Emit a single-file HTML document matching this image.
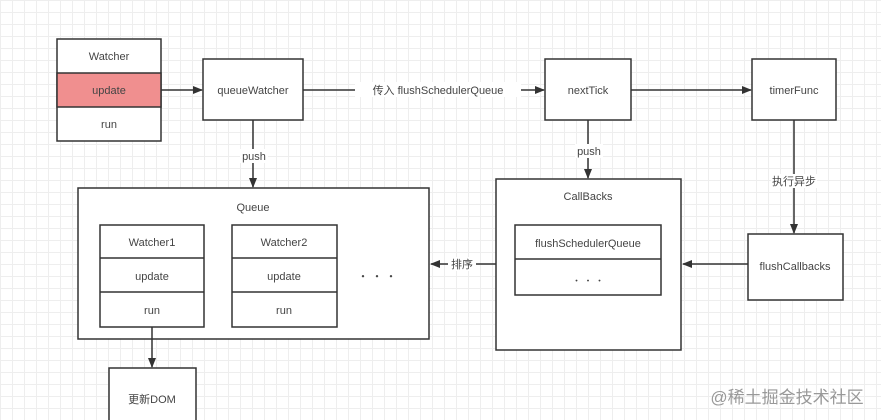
<!DOCTYPE html>
<html><head><meta charset="utf-8"><style>
body{margin:0;width:881px;height:420px;overflow:hidden;background:#fff;
background-image:linear-gradient(#eeeeee 1px,transparent 1px),linear-gradient(90deg,#eeeeee 1px,transparent 1px);background-size:12px 12px;}
</style></head><body>
<svg width="881" height="420" xmlns="http://www.w3.org/2000/svg" style="position:absolute;left:0;top:0;font-family:'Liberation Sans','Noto Sans CJK SC',sans-serif;font-size:11px">
<defs><marker id="a" markerWidth="10" markerHeight="8" refX="9" refY="4" orient="auto" markerUnits="userSpaceOnUse"><path d="M0,0 L10,4 L0,8 Z" fill="#333"/></marker></defs>
<g stroke="#333" stroke-width="1.5" fill="#fff">
<rect x="57" y="39" width="104" height="102"/>
<rect x="57" y="73" width="104" height="34" fill="#f08f8f"/>
<rect x="203" y="59" width="100" height="61"/>
<rect x="545" y="59" width="86" height="61"/>
<rect x="752" y="59" width="84" height="61"/>
<rect x="78" y="188" width="351" height="151"/>
<rect x="100" y="225" width="104" height="102"/>
<line x1="100" y1="258" x2="204" y2="258"/><line x1="100" y1="292" x2="204" y2="292"/>
<rect x="232" y="225" width="105" height="102"/>
<line x1="232" y1="258" x2="337" y2="258"/><line x1="232" y1="292" x2="337" y2="292"/>
<rect x="109" y="368" width="87" height="60"/>
<rect x="496" y="179" width="185" height="171"/>
<rect x="515" y="225" width="146" height="70"/>
<line x1="515" y1="259" x2="661" y2="259"/>
<rect x="748" y="234" width="95" height="66"/>
</g>
<g stroke="#333" stroke-width="1.5" fill="none" marker-end="url(#a)">
<line x1="161" y1="90" x2="202" y2="90"/>
<line x1="303" y1="90" x2="544" y2="90"/>
<line x1="631" y1="90" x2="751" y2="90"/>
<line x1="794" y1="120" x2="794" y2="233"/>
<line x1="748" y1="264" x2="683" y2="264"/>
<line x1="588" y1="120" x2="588" y2="178"/>
<line x1="253" y1="120" x2="253" y2="187"/>
<line x1="496" y1="264" x2="431" y2="264"/>
<line x1="152" y1="327" x2="152" y2="367"/>
</g>
<g fill="#fff">
<rect x="355" y="82" width="166" height="15"/>
<rect x="240" y="149" width="28" height="14"/>
<rect x="575" y="144" width="28" height="14"/>
<rect x="771" y="174" width="46" height="14"/>
<rect x="448" y="257" width="28" height="14"/>
</g>
<g fill="#444" text-anchor="middle">
<text x="109" y="60">Watcher</text><text x="109" y="94">update</text><text x="109" y="128">run</text>
<text x="253" y="94">queueWatcher</text><text x="588" y="94">nextTick</text><text x="794" y="94">timerFunc</text>
<text x="438" y="94">传入 flushSchedulerQueue</text>
<text x="254" y="160">push</text><text x="589" y="155">push</text><text x="794" y="185">执行异步</text><text x="462" y="268">排序</text>
<text x="253" y="211">Queue</text>
<text x="152" y="246">Watcher1</text><text x="152" y="280">update</text><text x="152" y="314">run</text>
<text x="284" y="246">Watcher2</text><text x="284" y="280">update</text><text x="284" y="314">run</text>
<text x="377" y="280">・ ・ ・</text>
<text x="152" y="403">更新DOM</text>
<text x="588" y="200">CallBacks</text>
<text x="588" y="247">flushSchedulerQueue</text>
<text x="588" y="284" font-size="9">・ ・ ・</text>
<text x="795" y="270">flushCallbacks</text>
<text x="787" y="403" font-size="17" fill="#999">@稀土掘金技术社区</text>
</g>
</svg>
</body></html>
